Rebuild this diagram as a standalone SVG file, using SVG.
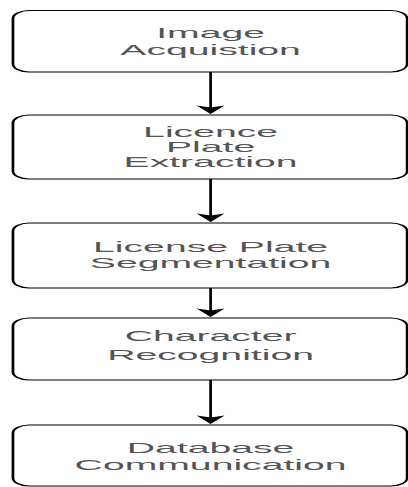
<svg xmlns="http://www.w3.org/2000/svg" width="408" height="487" viewBox="0 0 408 487">
<style>
.box{fill:#fff;stroke:#000;stroke-width:1}
.lbl{font-family:"Liberation Sans",Arial,sans-serif;font-size:14.5px;fill:#555;text-anchor:middle}
.ln{stroke:#000;stroke-width:1;fill:none}
.ah{fill:#000;stroke:none}
</style>
<rect width="408" height="487" fill="#fff"/>
<g transform="scale(2.7,1)">
<g id="connectors">
<line class="ln" x1="78" y1="72" x2="78" y2="108"/>
<path class="ah" d="M72.8 105.5 L78 114 L83.2 105.5 L78 107.5 Z"/>
<line class="ln" x1="78" y1="179" x2="78" y2="216"/>
<path class="ah" d="M72.8 213.5 L78 222 L83.2 213.5 L78 215.5 Z"/>
<line class="ln" x1="78" y1="288" x2="78" y2="311"/>
<path class="ah" d="M72.8 308.5 L78 317 L83.2 308.5 L78 310.5 Z"/>
<line class="ln" x1="78" y1="380" x2="78" y2="418"/>
<path class="ah" d="M72.8 415.5 L78 424 L83.2 415.5 L78 417.5 Z"/>
</g>
<g id="n1">
<rect class="box" x="4.8" y="10.5" width="146" height="61.5" rx="6" ry="8"/>
<text class="lbl" x="78" y="38">Image</text>
<text class="lbl" x="78" y="55">Acquistion</text>
</g>
<g id="n2">
<rect class="box" x="4.8" y="115" width="146" height="64" rx="6" ry="8"/>
<text class="lbl" x="78" y="137">Licence</text>
<text class="lbl" x="78" y="152">Plate</text>
<text class="lbl" x="78" y="167">Extraction</text>
</g>
<g id="n3">
<rect class="box" x="4.8" y="223" width="146" height="65" rx="6" ry="8"/>
<text class="lbl" x="78" y="252">License Plate</text>
<text class="lbl" x="78" y="268">Segmentation</text>
</g>
<g id="n4">
<rect class="box" x="4.8" y="318" width="146" height="62" rx="6" ry="8"/>
<text class="lbl" x="78" y="341">Character</text>
<text class="lbl" x="78" y="360">Recognition</text>
</g>
<g id="n5">
<rect class="box" x="4.8" y="425" width="146" height="61" rx="6" ry="8"/>
<text class="lbl" x="78" y="453">Database</text>
<text class="lbl" x="78" y="470">Communication</text>
</g>
</g>
</svg>
